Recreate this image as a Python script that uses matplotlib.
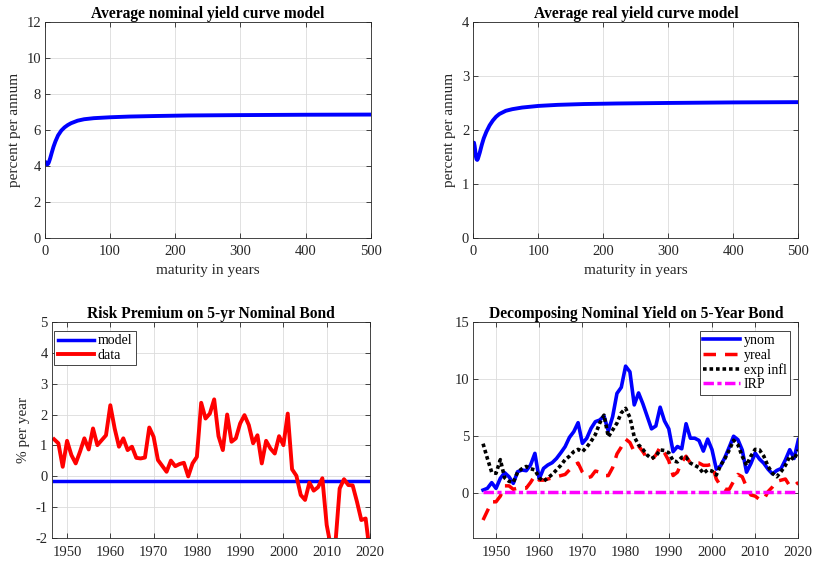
import matplotlib
matplotlib.use("Agg")
import matplotlib.pyplot as plt
import numpy as np

plt.rcParams["font.family"] = ["Liberation Serif", "DejaVu Serif"]
plt.rcParams["axes.unicode_minus"] = False

# average yield curves (maturity in years, percent per annum)
nom_mat = [1, 2, 3, 4, 5, 6, 8, 10, 13, 16, 20, 25, 30, 35, 40, 50, 60, 75, 100, 130, 170, 220, 300, 400, 500]
nom_yield = [4.2, 4.12, 4.08, 4.08, 4.12, 4.2, 4.42, 4.68, 5.05, 5.35, 5.68, 5.95, 6.13, 6.26, 6.36,
             6.5, 6.58, 6.64, 6.69, 6.73, 6.76, 6.79, 6.81, 6.83, 6.84]
real_mat = [1, 2, 3, 4, 5, 6, 7, 8, 10, 13, 16, 20, 25, 30, 35, 40, 50, 60, 75, 100, 130, 170, 220, 300, 400, 500]
real_yield = [1.76, 1.7, 1.6, 1.5, 1.45, 1.44, 1.46, 1.5, 1.58, 1.72, 1.84, 1.96, 2.08, 2.17, 2.24, 2.29,
              2.35, 2.38, 2.41, 2.44, 2.46, 2.475, 2.485, 2.495, 2.505, 2.51]

# annual series 1947-2020
years = np.arange(1947, 2021)
rp_data = [1.2, 1.07, 0.31, 1.15, 0.69, 0.42, 0.8, 1.23, 0.87, 1.55,
           1.01, 1.17, 1.33, 2.3, 1.55, 0.96, 1.23, 0.85, 0.96, 0.6,
           0.58, 0.61, 1.58, 1.28, 0.53, 0.34, 0.15, 0.51, 0.33, 0.4,
           0.44, 0.0, 0.42, 0.63, 2.38, 1.87, 2.03, 2.49, 1.3, 0.85,
           2.0, 1.12, 1.23, 1.71, 1.98, 1.66, 1.07, 1.33, 0.42, 1.15,
           0.9, 0.74, 1.3, 1.01, 2.03, 0.23, 0.02, -0.6, -0.76, -0.2,
           -0.46, -0.35, -0.06, -1.57, -2.3, -2.2, -0.39, -0.09, -0.28, -0.29,
           -0.82, -1.41, -1.36, -2.5]
rp_model = np.full(len(years), -0.15)

ynom = [0.23, 0.38, 0.88, 0.38, 1.26, 1.75, 1.4, 0.82, 1.84, 1.99,
        1.93, 2.43, 3.45, 1.2, 2.13, 2.43, 2.63, 3.0, 3.5, 4.04,
        4.85, 5.35, 6.14, 4.33, 4.77, 5.64, 6.23, 6.37, 6.73, 5.41,
        6.67, 8.71, 9.24, 11.1, 10.6, 7.7, 8.75, 7.8, 6.7, 5.6,
        5.85, 7.5, 6.3, 5.6, 3.6, 4.05, 3.85, 6.05, 4.78, 4.78,
        4.58, 3.65, 4.7, 3.78, 2.07, 2.35, 3.1, 4.0, 4.95, 4.65,
        3.75, 1.8, 2.55, 3.48, 2.95, 2.58, 2.05, 1.65, 1.95, 2.12,
        2.88, 3.77, 3.0, 4.65]
yreal = [-2.4, -1.6, -0.8, -0.8, -0.3, 0.6, 0.6, 0.3, 0.4, 0.4,
         0.4, 0.9, 1.5, 1.1, 1.1, 1.2, 1.3, 1.4, 1.5, 1.6,
         2.0, 2.4, 2.6, 1.8, 1.3, 1.4, 1.9, 1.8, 1.5, 1.5,
         2.2, 3.4, 4.0, 4.7, 4.4, 3.6, 4.1, 3.6, 3.0, 2.9,
         3.3, 4.0, 3.5, 2.8, 1.5, 1.8, 2.7, 3.2, 2.6, 2.6,
         2.6, 2.4, 2.4, 2.5, 1.2, 0.6, 0.3, 0.3, 1.0, 1.6,
         1.4, 0.5, -0.2, -0.3, -0.6, -0.6, 0.1, 0.5, 1.0, 1.1,
         1.2, 0.6, 0.6, 0.9]
exp_infl = [4.3, 3.0, 1.8, 1.7, 2.9, 1.3, 1.0, 0.9, 1.8, 2.1,
            2.3, 2.1, 2.0, 1.3, 1.0, 1.3, 1.6, 2.0, 2.4, 2.9,
            3.2, 3.6, 3.8, 3.6, 4.0, 4.5, 5.1, 6.1, 6.8, 4.9,
            5.5, 6.1, 7.0, 7.4, 6.6, 4.9, 4.2, 3.8, 3.3, 3.0,
            3.2, 3.75, 3.7, 3.5, 2.8, 2.7, 3.1, 3.1, 2.6, 2.4,
            2.2, 1.7, 2.0, 1.9, 1.55, 2.4, 3.0, 3.75, 4.6, 4.2,
            3.2, 2.4, 3.2, 3.8, 3.75, 3.2, 2.3, 1.7, 1.4, 1.85,
            2.4, 3.2, 2.9, 3.75]
irp = np.full(len(years), 0.02)

fig = plt.figure(figsize=(8.14, 5.63), dpi=100)
ax_tl = fig.add_axes([0.0553, 0.5778, 0.4001, 0.3837])
ax_tr = fig.add_axes([0.5815, 0.5778, 0.3993, 0.3837])
ax_bl = fig.add_axes([0.0635, 0.0439, 0.3910, 0.3847])
ax_br = fig.add_axes([0.5815, 0.0439, 0.3993, 0.3847])

dark = "#262626"
for ax in (ax_tl, ax_tr, ax_bl, ax_br):
    ax.grid(True, color="#dcdcdc", linewidth=0.6)
    ax.set_axisbelow(True)
    ax.tick_params(direction="in", top=True, right=True, length=3.5, width=0.6,
                   colors=dark, labelsize=10.5)
    ax.tick_params(axis="x", pad=5.5)  # MATLAB puts x labels a bit lower
    ax.tick_params(axis="y", pad=3)
    for sp in ax.spines.values():
        sp.set_color(dark)
        sp.set_linewidth(0.6)

title_kw = dict(fontsize=11.2, fontweight="bold", pad=3)
label_kw = dict(fontsize=11, color=dark)

# top left: nominal curve
ax_tl.plot(nom_mat, nom_yield, color="#0000ff", linewidth=2.8, solid_capstyle="round")
ax_tl.set_xlim(0, 500)
ax_tl.set_ylim(0, 12)
ax_tl.set_xticks(range(0, 501, 100))
ax_tl.set_yticks(range(0, 13, 2))
ax_tl.set_title("Average nominal yield curve model", **title_kw)
ax_tl.set_xlabel("maturity in years", labelpad=4, **label_kw)
ax_tl.set_ylabel("percent per annum", labelpad=4, **label_kw)

# top right: real curve
ax_tr.plot(real_mat, real_yield, color="#0000ff", linewidth=2.8, solid_capstyle="round")
ax_tr.set_xlim(0, 500)
ax_tr.set_ylim(0, 4)
ax_tr.set_xticks(range(0, 501, 100))
ax_tr.set_yticks(range(0, 5))
ax_tr.set_title("Average real yield curve model", **title_kw)
ax_tr.set_xlabel("maturity in years", labelpad=4, **label_kw)
ax_tr.set_ylabel("percent per annum", labelpad=4, **label_kw)

# bottom left: risk premium
ax_bl.plot(years, rp_model, color="#0000ff", linewidth=2.5, label="model")
ax_bl.plot(years, rp_data, color="#ff0000", linewidth=2.8, label="data")
ax_bl.set_xlim(1946.45, 2020)
ax_bl.set_ylim(-2, 5)
ax_bl.set_xticks(range(1950, 2021, 10))
ax_bl.set_yticks(range(-2, 6))
ax_bl.set_title("Risk Premium on 5-yr Nominal Bond", **title_kw)
ax_bl.set_ylabel("% per year", labelpad=4, **label_kw)
leg = ax_bl.legend(loc="upper left", bbox_to_anchor=(0.008, 0.957), borderaxespad=0,
                   fontsize=10, handlelength=2.6, handletextpad=0.3, borderpad=0.25,
                   labelspacing=0.1, fancybox=False, framealpha=1)
leg.get_frame().set_edgecolor(dark)
leg.get_frame().set_linewidth(0.6)

# bottom right: decomposition
ax_br.plot(years, ynom, color="#0000ff", linewidth=2.6, label="ynom")
ax_br.plot(years, yreal, color="#ff0000", linewidth=2.5, linestyle=(0, (3.6, 2.6)), label="yreal")
ax_br.plot(years, exp_infl, color="black", linewidth=2.6, linestyle=(0, (1, 0.8)),
           dash_capstyle="butt", label="exp infl")
ax_br.plot(years, irp, color="#ff00ff", linewidth=2.5, linestyle=(0, (3.0, 1.0, 1.2, 1.0)), label="IRP")
ax_br.set_xlim(1944.75, 2020)
ax_br.set_ylim(-4, 15)
ax_br.set_xticks(range(1950, 2021, 10))
ax_br.set_yticks(range(0, 16, 5))
ax_br.set_title("Decomposing Nominal Yield on 5-Year Bond", **title_kw)
leg = ax_br.legend(loc="upper right", bbox_to_anchor=(0.9745, 0.958), borderaxespad=0,
                   fontsize=10, handlelength=2.6, handletextpad=0.3, borderpad=0.25,
                   labelspacing=0.1, fancybox=False, framealpha=1)
leg.get_frame().set_edgecolor(dark)
leg.get_frame().set_linewidth(0.6)

fig.savefig("out.png", dpi=100)
